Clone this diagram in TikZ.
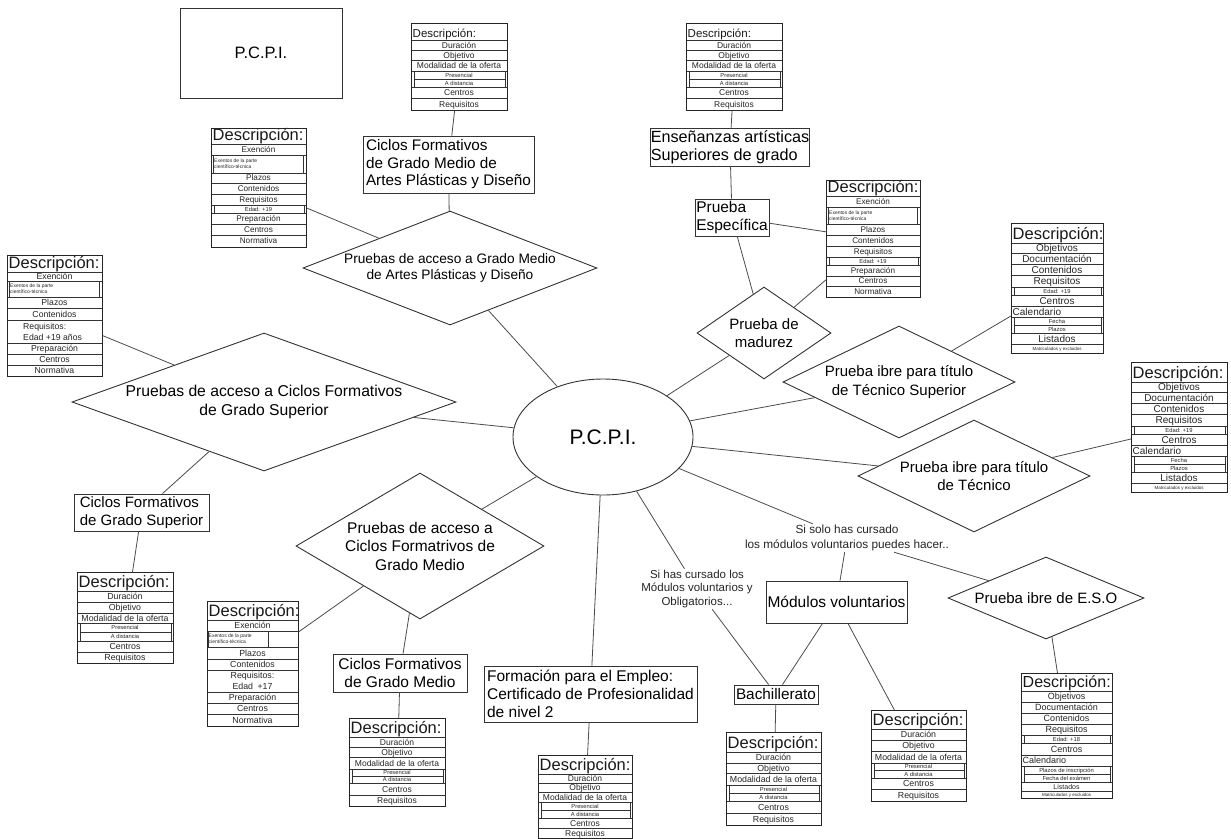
\documentclass[tikz,border=0pt]{standalone}
\usepackage{fontspec}
\setmainfont{Liberation Sans}
\usetikzlibrary{shapes.geometric}

\tikzset{
  ln/.style={draw=black!70, line width=0.8pt},
  bx/.style={draw=black!80, line width=0.9pt, inner sep=0pt, align=left, font=\fontsize{15.5}{18}\selectfont},
  dia/.style={diamond, draw=black!80, line width=0.9pt, inner sep=0pt, align=center, font=\fontsize{15}{18.5}\selectfont},
  rowline/.style={draw=black!80, line width=0.65pt},
  tframe/.style={draw=black!85, line width=1.1pt, inner sep=0pt, rectangle},
  rowtxt/.style={inner sep=0pt, text=black!85},
  lbl/.style={inner sep=1pt, align=center, text=black!85},
}

\newcount\rowc
\newcommand\tblnode[3]{\global\advance\rowc by 1\relax\node[rowtxt,#1] (tr\the\rowc) at (#2) {#3};}

% full-width centred row
\newcommand\trN[2]{\pgfmathsetmacro\yb{\tY+#1}\draw[rowline] (\tX,\tY) rectangle (\tX+\tW,\yb);%
  \tblnode{anchor=base,font=\fontsize{\rfs}{\rfs}\selectfont}{\tX+\tW/2,\tY+#1/2+0.36*\rfs}{#2}\xdef\tY{\yb}}
% full-width centred row, smaller text
\newcommand\trP[2]{\pgfmathsetmacro\yb{\tY+#1}\draw[rowline] (\tX,\tY) rectangle (\tX+\tW,\yb);%
  \tblnode{anchor=base,font=\fontsize{7}{7}\selectfont}{\tX+\tW/2,\tY+#1/2+2.5}{#2}\xdef\tY{\yb}}
% tiny full-width row
\newcommand\trT[2]{\pgfmathsetmacro\yb{\tY+#1}\draw[rowline] (\tX,\tY) rectangle (\tX+\tW,\yb);%
  \tblnode{anchor=base,font=\fontsize{4.5}{4.5}\selectfont}{\tX+\tW/2,\tY+#1/2+1.6}{#2}\xdef\tY{\yb}}
% inset sub row
\newcommand\trS[2]{\pgfmathsetmacro\yb{\tY+#1}\draw[rowline] (\tX+3,\tY) rectangle (\tX+\tW-2,\yb);%
  \tblnode{anchor=base,font=\fontsize{5.8}{5.8}\selectfont}{\tX+\tW/2,\tY+#1/2+2.1}{#2}\xdef\tY{\yb}}
% left aligned row
\newcommand\trL[2]{\pgfmathsetmacro\yb{\tY+#1}\draw[rowline] (\tX,\tY) rectangle (\tX+\tW,\yb);%
  \tblnode{anchor=base west,font=\fontsize{\rfs}{\rfs}\selectfont}{\tX+1.5,\tY+#1/2+0.36*\rfs}{#2}\xdef\tY{\yb}}
% two-line tiny inset row (wide)
\newcommand\trX[2]{\pgfmathsetmacro\yb{\tY+#1}\draw[rowline] (\tX+2,\tY) rectangle (\tX+\tW-3,\yb);%
  \tblnode{anchor=west,align=left,font=\fontsize{5}{6}\selectfont}{\tX+3,\tY+#1/2}{#2}\xdef\tY{\yb}}
% two-line tiny inset row (narrow)
\newcommand\trY[2]{\pgfmathsetmacro\yb{\tY+#1}\draw[rowline] (\tX+1,\tY) rectangle (\tX+0.67*\tW,\yb);%
  \tblnode{anchor=west,align=left,font=\fontsize{5}{6}\selectfont}{\tX+1.5,\tY+#1/2}{#2}\xdef\tY{\yb}}
% two-line centred row
\newcommand\trR[2]{\pgfmathsetmacro\yb{\tY+#1}\pgfmathsetmacro\rbs{\rfs*1.25}\draw[rowline] (\tX,\tY) rectangle (\tX+\tW,\yb);%
  \tblnode{align=center,font=\fontsize{\rfs}{\rbs}\selectfont}{\tX+\tW/2,\tY+#1/2}{#2}\xdef\tY{\yb}}
% two-line left row
\newcommand\trQ[2]{\pgfmathsetmacro\yb{\tY+#1}\pgfmathsetmacro\rbs{\rfs*1.25}\draw[rowline] (\tX,\tY) rectangle (\tX+\tW,\yb);%
  \tblnode{anchor=west,align=left,font=\fontsize{\rfs}{\rbs}\selectfont}{\tX+16,\tY+#1/2}{#2}\xdef\tY{\yb}}

% #1 name, #2 x, #3 top y, #4 width, #5 header height, #6 header font size, #7 rows
\newcommand\desctable[7]{%
  \def\tX{#2}\def\tW{#4}%
  \pgfmathsetmacro\tmpy{#3+#5}\xdef\tY{\tmpy}%
  \node[anchor=base west,inner sep=0pt,font=\fontsize{#6}{#6}\selectfont,text=black!90] (#1h) at (#2+1.5,#3+#5-0.2*#6) {Descripción:};%
  \foreach \rk/\rh/\rtxt in {#7}{\csname tr\rk\endcsname{\rh}{\rtxt}}%
  \pgfmathsetmacro\tH{\tY-#3}%
  \node[tframe,minimum width=#4,minimum height=\tH,anchor=north west] (#1) at (#2,#3) {};%
}

\begin{document}
\begin{tikzpicture}[x=1pt,y=-1pt]
\fill[white] (0,0) rectangle (1231,838);
\useasboundingbox (0,0) rectangle (1231,838);

% ---------- tables ----------
\def\rfs{8.5}
\desctable{t1}{411}{23}{96}{17}{11.5}{N/10/Duración,N/10/Objetivo,N/11/Modalidad de la oferta,S/8/Presencial,S/8/A distancia,N/11/Centros,N/12/Requisitos}
\desctable{t2}{686}{23}{96}{17}{11.5}{N/10/Duración,N/10/Objetivo,N/11/Modalidad de la oferta,S/8/Presencial,S/8/A distancia,N/11/Centros,N/12/Requisitos}
\def\rfs{8.2}
\desctable{t3}{211}{128}{95}{16}{16.5}{N/11/Exención,X/18/Exentos de la parte\\científico-técnica,N/10/Plazos,N/11/Contenidos,N/11/Requisitos,S/8/Edad: +19,N/11/Preparación,N/11/Centros,N/12/Normativa}
\desctable{t4}{826}{180}{94}{16}{16.5}{N/11/Exención,X/17/Exentos de la parte\\científico-técnica,N/11/Plazos,N/11/Contenidos,N/11/Requisitos,S/8/Edad: +19,N/11/Preparación,N/10/Centros,N/11/Normativa}
\def\rfs{8.7}
\desctable{t5}{7}{255}{95}{17}{16.5}{N/9/Exención,X/16/Exentos de la parte\\científico-técnica,N/11/Plazos,N/12/Contenidos,Q/23/Requisitos:\\Edad +19 años,N/11/Preparación,N/11/Centros,N/11/Normativa}
\def\rfs{10}
\desctable{t6}{1011}{223}{92}{20}{16.5}{N/10/Objetivos,N/11/Documentación,N/11/Contenidos,N/12/Requisitos,S/8/Edad: +19,N/11/Centros,L/11/Calendario,S/8/Fecha,S/8/Plazos,N/11/Listados,T/9/Matriculados y excluidos}
\desctable{t7}{1131}{362}{96}{20}{16.5}{N/10/Objetivos,N/11/Documentación,N/11/Contenidos,N/12/Requisitos,S/8/Edad: +19,N/11/Centros,L/11/Calendario,S/8/Fecha,S/8/Plazos,N/11/Listados,T/9/Matriculados y excluidos}
\def\rfs{8.8}
\desctable{t8}{77}{572}{96}{19}{16.5}{N/11/Duración,N/11/Objetivo,N/10/Modalidad de la oferta,S/9/Presencial,S/9/A distancia,N/11/Centros,N/11/Requisitos}
\desctable{t9}{207}{601}{91}{19}{16.5}{N/11/Exención,Y/16/Exentos de la parte\\científico-técnica,N/12/Plazos,N/11/Contenidos,R/22/Requisitos:\\Edad\enspace+17,N/11/Preparación,N/11/Centros,N/12/Normativa}
\def\rfs{8.5}
\desctable{t10}{349}{718}{96}{19}{16.5}{N/10/Duración,N/10/Objetivo,N/12/Modalidad de la oferta,S/7/Presencial,S/7/A distancia,N/12/Centros,N/11/Requisitos}
\desctable{t11}{538}{755}{94}{19}{16.5}{N/9/Duración,N/9/Objetivo,N/10/Modalidad de la oferta,S/8/Presencial,S/8/A distancia,N/10/Centros,N/10/Requisitos}
\def\rfs{8.8}
\desctable{t12}{726}{732}{95}{20}{16.5}{N/11/Duración,N/10/Objetivo,N/12/Modalidad de la oferta,S/8/Presencial,S/8/A distancia,N/12/Centros,N/12/Requisitos}
\desctable{t13}{871}{710}{95}{19}{16.5}{N/11/Duración,N/11/Objetivo,N/12/Modalidad de la oferta,S/7/Presencial,S/8/A distancia,N/11/Centros,N/12/Requisitos}
\def\rfs{9}
\desctable{t14}{1021}{673}{91}{18}{16}{N/11/Objetivos,N/11/Documentación,N/11/Contenidos,N/11/Requisitos,S/8/Edad: +18,N/12/Centros,L/11/Calendario,S/8/Plazos de inscripción,S/8/Fecha del exámen,P/9/Listados,T/7/Matriculados y excluidos}

% ---------- boxes ----------
\node[bx, minimum width=162, minimum height=90, font=\fontsize{16.5}{16.5}\selectfont] (pcpi) at (261,53) {P.C.P.I.};
\node[ellipse, draw=black!80, line width=0.9pt, minimum width=180, minimum height=116, inner sep=0pt, font=\fontsize{21}{21}\selectfont] (ell) at (603,437) {P.C.P.I.};

\node[bx, minimum width=171, minimum height=57, font=\fontsize{15.3}{17.5}\selectfont] (cfgma) at (448.5,164.5) {Ciclos Formativos\\de Grado Medio de\\Artes Plásticas y Diseño};
\node[bx, minimum width=156, minimum height=38, font=\fontsize{16.2}{17.5}\selectfont] (ens) at (730,147) {Enseñanzas artísticas\\Superiores de grado};
\node[bx, minimum width=74, minimum height=37] (pe) at (732,217.5) {Prueba\\Específica};
\node[bx, minimum width=135, minimum height=37, font=\fontsize{15}{18}\selectfont] (cfgs) at (141.5,512.5) {Ciclos Formativos\\de Grado Superior};
\node[bx, minimum width=134, minimum height=38, align=center] (cfgm) at (400,673) {Ciclos Formativos\\de Grado Medio};
\node[bx, minimum width=213, minimum height=56] (form) at (590.5,694) {Formación para el Empleo:\\Certificado de Profesionalidad\\de nivel 2};
\node[bx, minimum width=141, minimum height=42] (mv) at (836.5,602) {Módulos voluntarios};
\node[bx, minimum width=84, minimum height=19, font=\fontsize{15.3}{18}\selectfont] (bach) at (776,694.5) {Bachillerato};

% ---------- diamonds ----------
\node[dia, minimum width=294, minimum height=114, aspect=2.58, font=\fontsize{13.7}{15.5}\selectfont] (dgma) at (450,268) {Pruebas de acceso a Grado Medio\\de Artes Plásticas y Diseño};
\node[dia, minimum width=384, minimum height=138, aspect=2.78, font=\fontsize{15.7}{19}\selectfont] (dgs) at (264,402) {Pruebas de acceso a Ciclos Formativos\\de Grado Superior};
\node[dia, minimum width=248, minimum height=146, aspect=1.7, font=\fontsize{15.5}{18.5}\selectfont] (dgm) at (420,546) {Pruebas de acceso a\\Ciclos Formatrivos de\\Grado Medio};
\node[dia, minimum width=134, minimum height=92, aspect=1.46, font=\fontsize{15}{18}\selectfont] (dmad) at (764,333) {Prueba de\\madurez};
\node[dia, minimum width=232, minimum height=112, aspect=2.07] (dts) at (899,382) {Prueba ibre para título\\de Técnico Superior};
\node[dia, minimum width=232, minimum height=112, aspect=2.07] (dtec) at (974,476) {Prueba ibre para título\\de Técnico};
\node[dia, minimum width=196, minimum height=82, aspect=2.39] (deso) at (1046,598) {Prueba ibre de E.S.O};

% ---------- labels ----------
\node[lbl, font=\fontsize{11.5}{13.7}\selectfont] (lbl1) at (697,589) {Si has cursado los\\Módulos voluntarios y\\Obligatorios...};
\node[lbl, font=\fontsize{11.8}{15}\selectfont] (lbl2) at (847,538) {Si solo has cursado\\los módulos voluntarios puedes hacer..};

% ---------- connectors ----------
\draw[ln] (t1) -- (cfgma);
\draw[ln] (cfgma) -- (dgma);
\draw[ln] (t3) -- (dgma);
\draw[ln] (dgma) -- (ell);
\draw[ln] (t2) -- (ens);
\draw[ln] (ens) -- (pe);
\draw[ln] (pe) -- (t4);
\draw[ln] (pe) -- (dmad);
\draw[ln] (dmad) -- (t4);
\draw[ln] (ell) -- (dmad);
\draw[ln] (ell) -- (dts);
\draw[ln] (dts) -- (t6);
\draw[ln] (ell) -- (dtec);
\draw[ln] (dtec) -- (t7);
\draw[ln] (t5) -- (dgs);
\draw[ln] (dgs) -- (ell);
\draw[ln] (dgs) -- (cfgs);
\draw[ln] (cfgs) -- (t8);
\draw[ln] (ell) -- (dgm);
\draw[ln] (dgm) -- (t9);
\draw[ln] (dgm) -- (cfgm);
\draw[ln] (cfgm) -- (t10);
\draw[ln] (ell) -- (form);
\draw[ln] (form) -- (t11);
\draw[ln] (ell) -- (lbl1);
\draw[ln] (lbl1) -- (bach);
\draw[ln] (ell) -- (lbl2);
\draw[ln] (lbl2) -- (mv);
\draw[ln] (lbl2) -- (deso);
\draw[ln] (mv) -- (bach);
\draw[ln] (mv) -- (t13);
\draw[ln] (bach) -- (t12);
\draw[ln] (deso) -- (t14);
\end{tikzpicture}
\end{document}
